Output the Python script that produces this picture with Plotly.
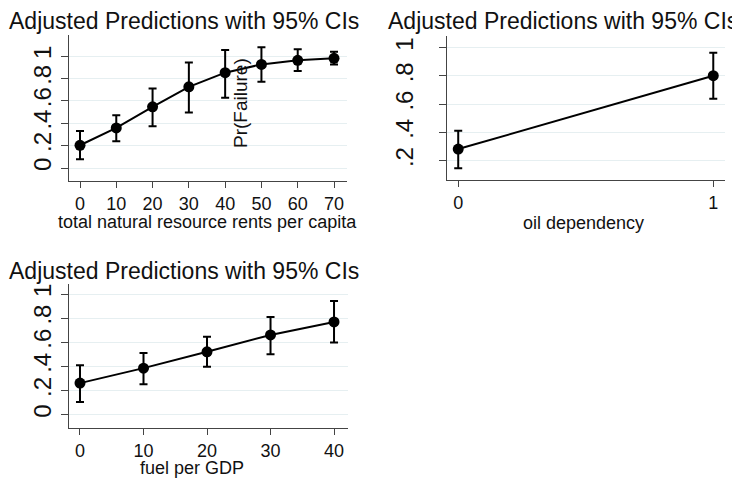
import plotly.graph_objects as go

# ---- data ----
rents_x = [0, 10, 20, 30, 40, 50, 60, 70]
rents_y = [0.203, 0.358, 0.546, 0.725, 0.851, 0.925, 0.961, 0.979]
rents_hi = [0.331, 0.472, 0.710, 0.943, 1.054, 1.078, 1.060, 1.039]
rents_lo = [0.078, 0.239, 0.373, 0.496, 0.627, 0.770, 0.866, 0.925]

oil_x = [0, 1]
oil_y = [0.282, 0.802]
oil_hi = [0.412, 0.965]
oil_lo = [0.146, 0.638]

fuel_x = [0, 10, 20, 30, 40]
fuel_y = [0.262, 0.386, 0.521, 0.661, 0.769]
fuel_hi = [0.410, 0.512, 0.647, 0.810, 0.942]
fuel_lo = [0.105, 0.253, 0.397, 0.501, 0.598]

title_text = "Adjusted Predictions with 95% CIs"
x_titles = ["total natural resource rents per capita", "oil dependency", "fuel per GDP"]
y_title = "Pr(Failure)"
y_ticks_full = [0, 0.2, 0.4, 0.6, 0.8, 1]
y_labels_full = ["0", ".2", ".4", ".6", ".8", "1"]
y_ticks_oil = [0.2, 0.4, 0.6, 0.8, 1]
y_labels_oil = [".2", ".4", ".6", ".8", "1"]

# page body has an 8px default margin; the figure is sized to fill the rest
OFF = 8
W, H = 740 - OFF, 481 - OFF
FONT = "Liberation Sans, Arial, sans-serif"
AXC = "#444444"
GRID = "#e6eff1"


def px_x(p):
    return (p - OFF) / W


def px_y(p):
    return 1 - (p - OFF) / H


fig = go.Figure()


def add_series(x, y, hi, lo, xa, ya):
    fig.add_trace(go.Scatter(
        x=x, y=y, xaxis=xa, yaxis=ya, mode="lines+markers",
        line=dict(color="black", width=2),
        marker=dict(color="black", size=11),
        error_y=dict(type="data", symmetric=False,
                     array=[h - v for h, v in zip(hi, y)],
                     arrayminus=[v - l for l, v in zip(lo, y)],
                     color="black", thickness=2, width=4),
        showlegend=False, hoverinfo="skip"))


add_series(rents_x, rents_y, rents_hi, rents_lo, "x", "y")
add_series(oil_x, oil_y, oil_hi, oil_lo, "x2", "y2")
add_series(fuel_x, fuel_y, fuel_hi, fuel_lo, "x3", "y3")


def xax(domain, rng, tickvals, anchor):
    return dict(domain=domain, range=rng, tickvals=tickvals, automargin=False,
                ticktext=[str(v) for v in tickvals], showgrid=False, zeroline=False,
                showline=True, linecolor=AXC, linewidth=1.3, ticks="outside",
                ticklen=6, tickcolor=AXC, tickwidth=1.3, anchor=anchor,
                tickfont=dict(family=FONT, size=18, color="#111"))


def yax(domain, rng, tickvals, ticktext, anchor, standoff=0):
    return dict(domain=domain, range=rng, tickvals=tickvals, ticktext=ticktext,
                automargin=False, ticklabelstandoff=standoff,
                showgrid=True, gridcolor=GRID, gridwidth=1.3, zeroline=False,
                showline=True, linecolor=AXC, linewidth=1.3, ticks="outside",
                ticklen=7, tickcolor=AXC, tickwidth=1.3, tickangle=-90, anchor=anchor,
                tickfont=dict(family=FONT, size=24, color="#111"))


fig.update_layout(
    width=W, height=H, margin=dict(l=0, r=0, t=0, b=0),
    paper_bgcolor="white", plot_bgcolor="white",
    xaxis=xax([px_x(69), px_x(347)], [-3.03, 73.58], rents_x, "y"),
    yaxis=yax([px_y(181), px_y(35)], [-0.116, 1.1875], y_ticks_full, y_labels_full, "x"),
    xaxis2=xax([px_x(447), px_x(725)], [-0.044, 1.046], oil_x, "y2"),
    yaxis2=yax([px_y(180), px_y(36)], [0.063, 1.083], y_ticks_oil, y_labels_oil, "x2", 16),
    xaxis3=xax([px_x(69), px_x(348)], [-1.73, 42.2], fuel_x, "y3"),
    yaxis3=yax([px_y(428), px_y(284)], [-0.11, 1.083], y_ticks_full, y_labels_full, "x3"),
)

ann = []
for (x0, yc) in [(7, 21), (386, 21), (7, 271)]:
    ann.append(dict(text=title_text, xref="paper", yref="paper", x=px_x(x0), y=px_y(yc),
                    xanchor="left", yanchor="middle", showarrow=False,
                    font=dict(family=FONT, size=23, color="#111")))
for t, (xc, yc) in zip(x_titles, [(207, 222), (583, 223), (192, 468)]):
    ann.append(dict(text=t, xref="paper", yref="paper", x=px_x(xc), y=px_y(yc),
                    xanchor="center", yanchor="middle", showarrow=False,
                    font=dict(family=FONT, size=18, color="#111")))
ann.append(dict(text=y_title, xref="paper", yref="paper", x=px_x(240), y=px_y(103),
                xanchor="center", yanchor="middle", showarrow=False, textangle=-90,
                font=dict(family=FONT, size=19, color="#111")))
fig.update_layout(annotations=ann)

fig.write_html("out.html")
